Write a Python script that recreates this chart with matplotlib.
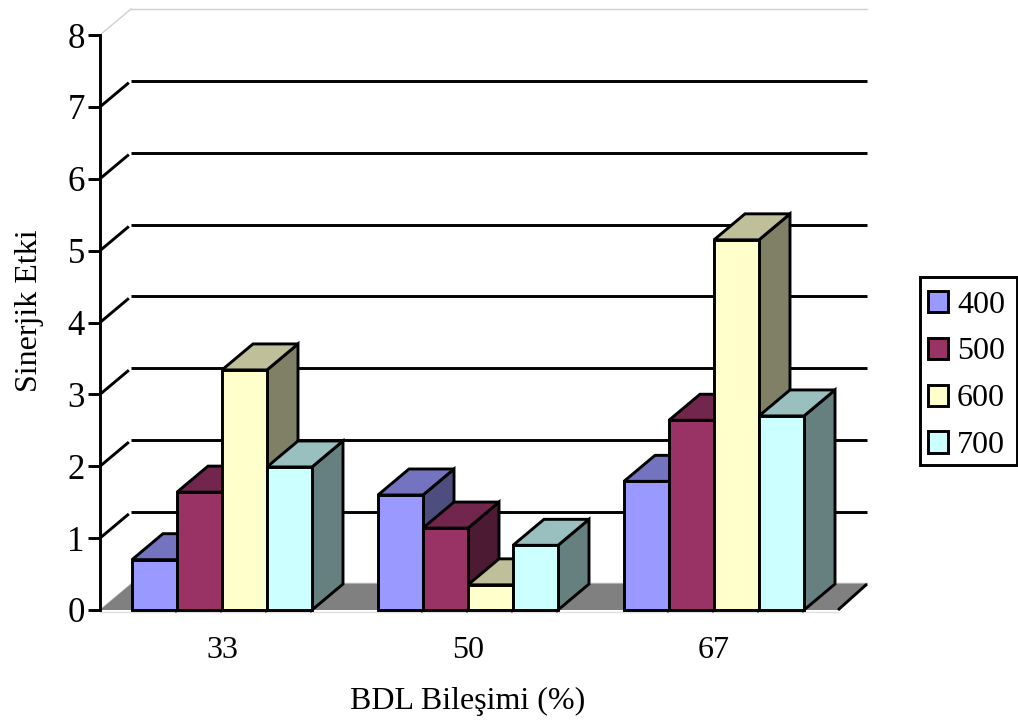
import matplotlib
matplotlib.use("Agg")
import matplotlib.pyplot as plt
from matplotlib.patches import Polygon, Patch, Rectangle

plt.rcParams['font.family'] = ['Liberation Serif', 'DejaVu Serif']

# Values
categories = ['33', '50', '67']
series_names = ['400', '500', '600', '700']
s400 = [0.70, 1.60, 1.79]
s500 = [1.64, 1.14, 2.64]
s600 = [3.34, 0.35, 5.15]
s700 = [1.99, 0.90, 2.70]
series_values = [s400, s500, s600, s700]
colors = ['#9999FF', '#993366', '#FFFFCC', '#CCFFFF']
tops = ['#7373BF', '#73264D', '#BFBF99', '#99BFBF']
sides = ['#4D4D80', '#4D1A33', '#808066', '#668080']

# 3D look: depth offset and bar width in data units
dx = 31 / 246
dy = 26 / 71.875
bar_w = 45 / 246
group_pad = 32 / 246
wall_end = 3 + 29 / 246
lw = 2.1

fig = plt.figure(figsize=(10.18, 7.22), dpi=100)
ax = fig.add_axes([0, 0, 1, 1])
ax.set_xlim(-100 / 246, 918 / 246)
ax.set_ylim(-112 / 71.875, 610 / 71.875)
ax.patch.set_alpha(0)

# Floor
n = len(categories)
ax.add_patch(Polygon([(0, 0), (n, 0), (wall_end, dy), (dx, dy)], fc='#808080', ec='none', zorder=1))
ax.plot([n, wall_end], [0, dy], color='black', lw=lw, zorder=1.5, solid_capstyle='butt')
ax.plot([0, n], [-0.03, -0.03], color='#E0E0E0', lw=1, zorder=1)
ax.plot([dx, wall_end], [dy + 0.02, dy + 0.02], color='#B0B0B0', lw=1, zorder=0.9)

# Walls and grid
for v in range(1, 8):
    ax.plot([0, dx * 0.93], [v, v + dy * 0.93], color='black', lw=lw, zorder=1, solid_capstyle='butt')
    ax.plot([dx, wall_end], [v + dy, v + dy], color='black', lw=lw, zorder=1, solid_capstyle='butt')
ax.plot([0, dx], [0, dy], color='#D0D0D0', lw=1, zorder=0.9)
ax.plot([0, dx], [8, 8 + dy], color='#D0D0D0', lw=1, zorder=0.9)
ax.plot([dx, wall_end], [8 + dy, 8 + dy], color='#D0D0D0', lw=1, zorder=0.9)

# Bars, left to right so the next front covers the last side
z = 2
for g in range(n):
    for i, vals in enumerate(series_values):
        x0 = g + group_pad + i * bar_w
        x1 = x0 + bar_w
        h = vals[g]
        side = [(x1, 0), (x1 + dx, dy), (x1 + dx, h + dy), (x1, h)]
        top = [(x0, h), (x1, h), (x1 + dx, h + dy), (x0 + dx, h + dy)]
        front = [(x0, 0), (x1, 0), (x1, h), (x0, h)]
        for pts, c in ((side, sides[i]), (top, tops[i]), (front, colors[i])):
            ax.add_patch(Polygon(pts, fc=c, ec='black', lw=lw, joinstyle='miter', zorder=z))
            z += 0.01

# Axes
for s in ('top', 'right', 'bottom'):
    ax.spines[s].set_visible(False)
ax.spines['left'].set_position(('data', 0))
ax.spines['left'].set_bounds(0, 8)
ax.spines['left'].set_linewidth(lw)
ax.spines['left'].set_zorder(1.6)
ax.set_yticks(range(0, 9))
ax.tick_params(axis='y', length=9, width=lw, labelsize=25, pad=2)
ax.spines['bottom'].set_position(('data', 0))
ax.set_xticks([g + 0.496 for g in range(n)])
ax.set_xticklabels(categories)
ax.tick_params(axis='x', length=0, labelsize=23, pad=19)

fig.text(30 / 1018, 1 - 311 / 722, 'Sinerjik Etki', rotation=90, fontsize=23, ha='center', va='center')
fig.text(468 / 1018, 1 - 701 / 722, 'BDL Bileşimi (%)', fontsize=23, ha='center', va='center')

# Legend: frame drawn apart because the rows sit low in the box
fig.add_artist(Rectangle((920 / 1018, 1 - 465 / 722), 97 / 1018, 188 / 722, transform=fig.transFigure,
                         fc='white', ec='black', lw=lw))
handles = [Patch(fc=c, ec='black', lw=lw) for c in colors]
leg = fig.legend(handles, series_names, loc='upper left',
                 bbox_to_anchor=(918 / 1018, 1 - 281 / 722), borderaxespad=0,
                 fontsize=23, frameon=False, handlelength=0.64, handleheight=0.64,
                 handletextpad=0.28, labelspacing=0.56, borderpad=0.3)

fig.savefig('out.png', dpi=100)
